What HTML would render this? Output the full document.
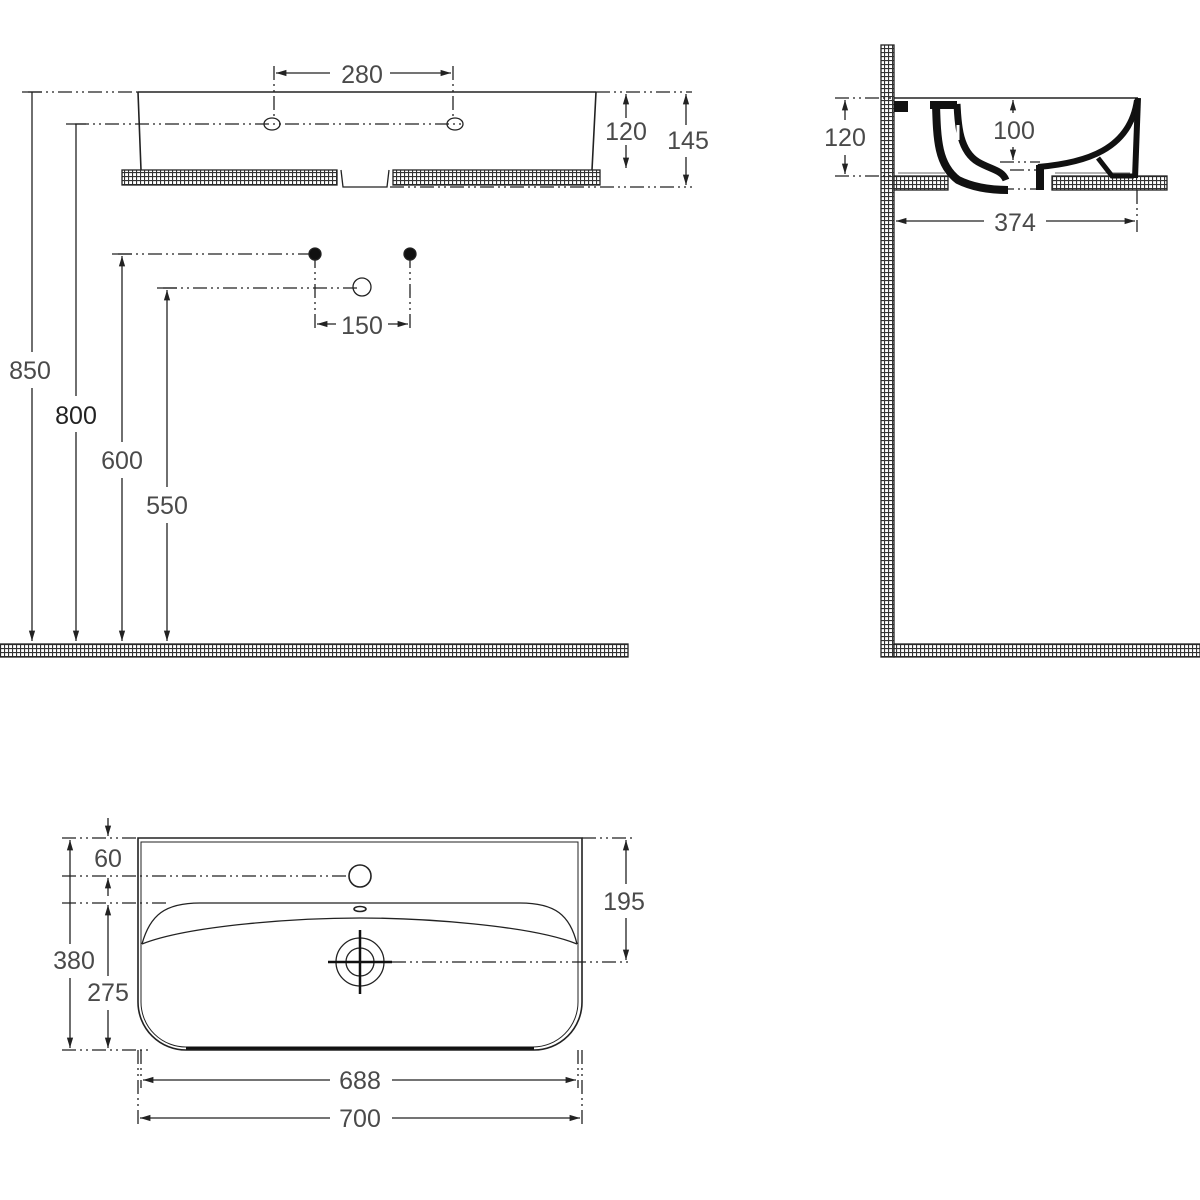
<!DOCTYPE html>
<html><head><meta charset="utf-8"><style>
html,body{margin:0;padding:0;background:#fff}
svg{display:block}
text{font-family:"Liberation Sans",sans-serif;font-size:25px;fill:#4a4a4a;font-weight:300}
</style></head><body>
<svg width="1200" height="1200" viewBox="0 0 1200 1200" xmlns="http://www.w3.org/2000/svg">
<defs>
<pattern id="h" width="4" height="4" patternUnits="userSpaceOnUse">
<rect width="4" height="4" fill="#fff"/>
<path d="M0 0.5H4M0.5 0V4" stroke="#333" stroke-width="1.2"/>
</pattern>
<marker id="a" viewBox="0 0 10 10" refX="10" refY="5" markerWidth="8" markerHeight="8" orient="auto-start-reverse">
<path d="M0 2L10 5L0 8z" fill="#222"/></marker>
</defs>
<g fill="none" stroke="#222" stroke-width="1.3">
<g stroke-dasharray="14 4 2 4 2 4">
<path d="M28 92H138M596 92H692M75 124H465M390 187H692M118 254H315M163 288H360M315 254V332M410 254V332"/>
<path d="M274 66V118M453 66V118"/>
</g>
<path d="M138 92H596M138 92L141 170M596 92L592 170" stroke-width="1.6"/>
<rect x="122" y="170" width="215" height="15" fill="url(#h)"/>
<rect x="393" y="170" width="207" height="15" fill="url(#h)"/>
<path d="M341 170L343 187H387L389 170"/>
<ellipse cx="272" cy="124" rx="8" ry="6"/><ellipse cx="455" cy="124" rx="8" ry="6"/>
<path d="M276 73H330M390 73H451" marker-start="url(#a)" marker-end="url(#a)"/>
<path d="M626 94V118M626 145V168" marker-start="url(#a)" marker-end="url(#a)"/>
<path d="M686 94V125M686 157V185" marker-start="url(#a)" marker-end="url(#a)"/>
<path d="M32 92V352M32 388V641" marker-end="url(#a)"/>
<path d="M76 124V396M76 432V641" marker-end="url(#a)"/>
<path d="M122 256V442M122 478V641" marker-start="url(#a)" marker-end="url(#a)"/>
<path d="M167 290V487M167 523V641" marker-start="url(#a)" marker-end="url(#a)"/>
<path d="M22 92H42M66 124H86M112 254H132M157 288H177"/>
<circle cx="315" cy="254" r="6" fill="#111"/><circle cx="410" cy="254" r="6" fill="#111"/>
<circle cx="362" cy="287" r="9"/>
<path d="M317 324H336M388 324H408" marker-start="url(#a)" marker-end="url(#a)"/>
<rect x="0" y="644" width="628" height="13" fill="url(#h)"/>
<rect x="881" y="45" width="13" height="612" fill="url(#h)"/>
<rect x="894" y="644" width="306" height="13" fill="url(#h)"/>
<rect x="894" y="176" width="54" height="14" fill="url(#h)"/>
<rect x="1052" y="176" width="115" height="14" fill="url(#h)"/>
<path d="M898 173H945M1055 173H1130" stroke="#666" stroke-width="1"/>
<path d="M894 98H1138" stroke-width="1.6"/>
<g stroke-dasharray="14 4 2 4 2 4"><path d="M835 98H894M835 176H894M1000 162H1040M1010 170H1040M1000 189H1040M1137 190V232"/></g>
<g fill="#111" stroke="none">
<rect x="894" y="101" width="14" height="11"/>
<rect x="930" y="101" width="27" height="8"/>
</g>
<path d="M936 104C937 140 938 165 958 180C978 190 1000 190 1008 190" stroke="#111" stroke-width="8"/>
<path d="M957 104C958 120 958 150 978 162C992 170 1002 170 1006 180" stroke="#111" stroke-width="7"/>
<path d="M958 125V140" stroke="#fff" stroke-width="3"/>
<path d="M1040 165V190" stroke="#111" stroke-width="8"/>
<path d="M1038 167C1085 163 1130 150 1137 100" stroke="#111" stroke-width="6"/>
<path d="M1138 98L1135 178" stroke="#111" stroke-width="6"/>
<path d="M1098 158L1112 176H1134" stroke="#111" stroke-width="5"/>
<path d="M845 100V120M845 155V174" marker-start="url(#a)" marker-end="url(#a)"/>
<path d="M1013 100V113M1013 147V160" marker-start="url(#a)" marker-end="url(#a)"/>
<path d="M896 221H984M1046 221H1135" marker-start="url(#a)" marker-end="url(#a)"/>
<path d="M138 838H582V1002A48 48 0 0 1 534 1050H186A48 48 0 0 1 138 1002Z" stroke-width="1.6"/>
<path d="M141 842H578V1002A45 45 0 0 1 533 1047H187A45 45 0 0 1 141 1002Z" stroke-width="1"/>
<path d="M186 1048H534" stroke="#111" stroke-width="3"/>
<path d="M142 944C150 915 165 903 200 903H520C555 903 570 915 577 944" stroke-width="1.3"/>
<path d="M142 944C190 925 300 918 360 918C420 918 530 925 577 944"/>
<circle cx="360" cy="876" r="11" stroke-width="1.6"/>
<ellipse cx="360" cy="909" rx="6" ry="2.5" stroke-width="1.6"/>
<circle cx="360" cy="962" r="24"/><circle cx="360" cy="962" r="14"/>
<path d="M328 962H392M360 930V994" stroke="#111" stroke-width="2.5"/>
<g stroke-dasharray="14 4 2 4 2 4">
<path d="M62 838H138M582 838H632M62 876H350M62 903H170M392 962H632M62 1050H150M138 1050V1126M582 1050V1126M141 1050V1088M578 1050V1088"/>
</g>
<path d="M108 818V836" marker-end="url(#a)"/>
<path d="M108 878V896" marker-start="url(#a)"/>
<path d="M70 840V944M70 978V1048" marker-start="url(#a)" marker-end="url(#a)"/>
<path d="M108 905V976M108 1010V1048" marker-start="url(#a)" marker-end="url(#a)"/>
<path d="M626 840V884M626 918V960" marker-start="url(#a)" marker-end="url(#a)"/>
<path d="M143 1080H330M392 1080H576" marker-start="url(#a)" marker-end="url(#a)"/>
<path d="M140 1118H330M392 1118H580" marker-start="url(#a)" marker-end="url(#a)"/>
</g>
<g text-anchor="middle">
<text x="362" y="83">280</text>
<text x="626" y="140">120</text>
<text x="688" y="149">145</text>
<text x="30" y="379">850</text>
<text x="76" y="424" style="fill:#222">800</text>
<text x="122" y="469">600</text>
<text x="167" y="514">550</text>
<text x="362" y="334">150</text>
<text x="845" y="146">120</text>
<text x="1014" y="139">100</text>
<text x="1015" y="231">374</text>
<text x="108" y="867">60</text>
<text x="74" y="969">380</text>
<text x="108" y="1001">275</text>
<text x="624" y="910">195</text>
<text x="360" y="1089">688</text>
<text x="360" y="1127">700</text>
</g>
</svg>
</body></html>
